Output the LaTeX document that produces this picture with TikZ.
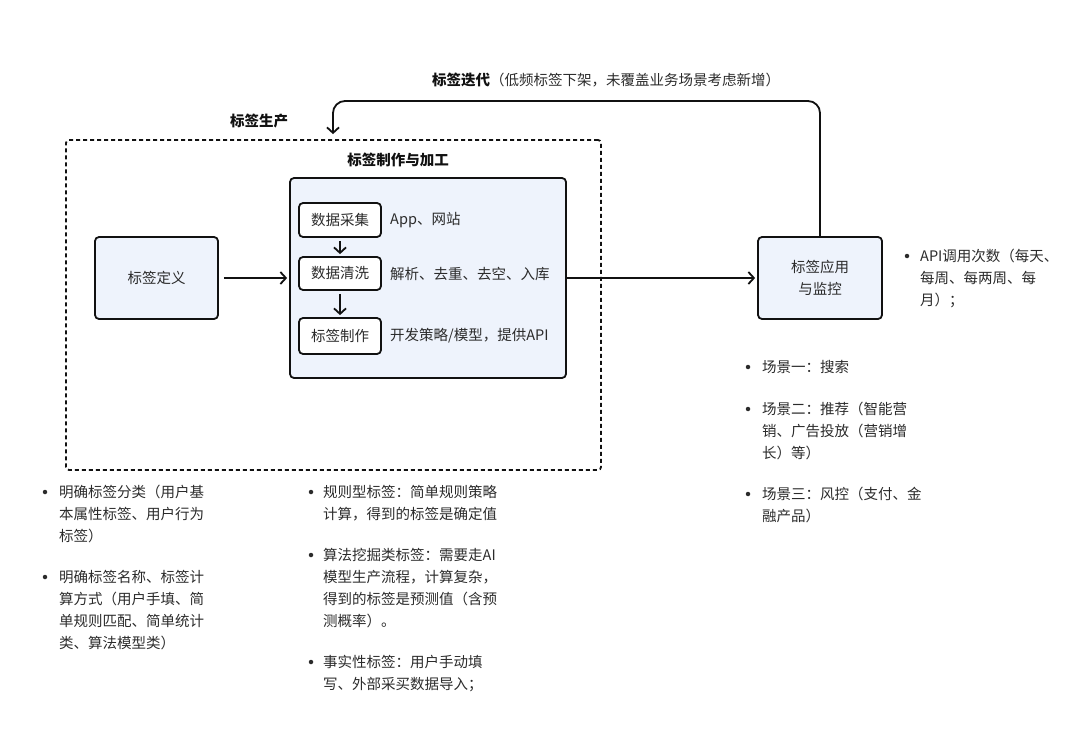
\documentclass[tikz,border=0pt]{standalone}
\usepackage{fontspec}
\setmainfont{Noto Sans CJK SC}
\usetikzlibrary{arrows.meta,calc}
\definecolor{boxfill}{HTML}{EEF3FC}
\definecolor{ink}{HTML}{111111}
\definecolor{txt}{HTML}{2B2B2B}
\tikzset{
  blk/.style={draw=ink, line width=1.8pt, fill=boxfill, rounded corners=4pt, align=center, font=\fontsize{14.5}{22}\selectfont, text=txt},
  sub/.style={draw=ink, line width=1.8pt, fill=white, rounded corners=4pt, align=center, font=\fontsize{14.5}{22}\selectfont, text=txt},
  note/.style={anchor=north west, inner sep=0pt, align=left, font=\fontsize{14.5}{22}\selectfont, text=txt},
  lab/.style={anchor=west, inner sep=0pt, font=\fontsize{14.5}{22}\selectfont, text=txt},
  ttl/.style={inner sep=0pt, font=\fontsize{14.5}{22}\selectfont\bfseries, text=ink},
  arr/.style={draw=ink, line width=1.8pt, -{Straight Barb[length=5.5pt,width=12pt,line width=1.8pt]}},
  dot/.style={fill=txt, circle, inner sep=0pt, minimum size=4.5pt}
}
\begin{document}
\begin{tikzpicture}[x=1pt,y=-1pt]
\useasboundingbox (0,0) rectangle (1078,738);
% dashed production box
\node[draw=ink, line width=1.8pt, dash pattern=on 4pt off 3pt, rounded corners=3pt, minimum width=535pt, minimum height=330pt, inner sep=0pt] (prod) at (333.5,305) {};
\node[ttl] (prodt) at (259,121) {标签生产};
% inner processing box
\node[blk, minimum width=276pt, minimum height=200pt, inner sep=0pt] (inner) at (428,278) {};
\node[ttl] (innert) at (398,160) {标签制作与加工};
\node[sub, minimum width=82pt, minimum height=34pt, inner sep=0pt] (s1) at (340,220) {数据采集};
\node[sub, minimum width=82pt, minimum height=33pt, inner sep=0pt] (s2) at (340,273.5) {数据清洗};
\node[sub, minimum width=82pt, minimum height=36pt, inner sep=0pt] (s3) at (340,336) {标签制作};
\node[lab] (l1) at (390,220) {App、网站};
\node[lab] (l2) at (390,274) {解析、去重、去空、入库};
\node[lab] (l3) at (390,336) {开发策略/模型，提供API};
\draw[arr, shorten <=3pt, shorten >=2pt] (s1) -- (s2);
\draw[arr, shorten <=3pt, shorten >=2pt] (s2) -- (s3);
% main boxes
\node[blk, minimum width=123pt, minimum height=82pt, inner sep=0pt] (def) at (156.5,278) {标签定义};
\node[blk, minimum width=124pt, minimum height=82pt, inner sep=0pt] (app) at (820,278) {标签应用\\与监控};
\draw[arr, shorten <=5pt, shorten >=2pt] (def) -- (inner);
\draw[arr, shorten >=2pt] (inner) -- (app);
% iteration loop
\coordinate (lt) at (333,101);
\draw[arr, rounded corners=12pt, shorten >=5pt] (app.north) |- (lt) -- (lt |- prod.north);
\node[inner sep=0pt, font=\fontsize{14.5}{22}\selectfont, text=txt] (iter) at (606,80) {\textbf{\color{ink}标签迭代}（低频标签下架，未覆盖业务场景考虑新增）};
% right notes
\node[dot] (b1) at (907,256) {};
\node[note] (n1) at (920,249) {API调用次数（每天、\\每周、每两周、每\\月）；};
\node[dot] (b2) at (748,367) {};
\node[note] (n2) at (762,360) {场景一：搜索};
\node[dot] (b3) at (748,409) {};
\node[note] (n3) at (762,402) {场景二：推荐（智能营\\销、广告投放（营销增\\长）等）};
\node[dot] (b4) at (748,494) {};
\node[note] (n4) at (762,487) {场景三：风控（支付、金\\融产品）};
% left notes
\node[dot] (b5) at (45,492) {};
\node[note] (n5) at (59,485) {明确标签分类（用户基\\本属性标签、用户行为\\标签）};
\node[dot] (b6) at (45,577) {};
\node[note] (n6) at (59,570) {明确标签名称、标签计\\算方式（用户手填、简\\单规则匹配、简单统计\\类、算法模型类）};
% middle notes
\node[dot] (b7) at (311,492) {};
\node[note] (n7) at (323,485) {规则型标签：简单规则策略\\计算，得到的标签是确定值};
\node[dot] (b8) at (311,555) {};
\node[note] (n8) at (323,548) {算法挖掘类标签：需要走AI\\模型生产流程，计算复杂，\\得到的标签是预测值（含预\\测概率）。};
\node[dot] (b9) at (311,662) {};
\node[note] (n9) at (323,655) {事实性标签：用户手动填\\写、外部采买数据导入；};
\end{tikzpicture}
\end{document}
